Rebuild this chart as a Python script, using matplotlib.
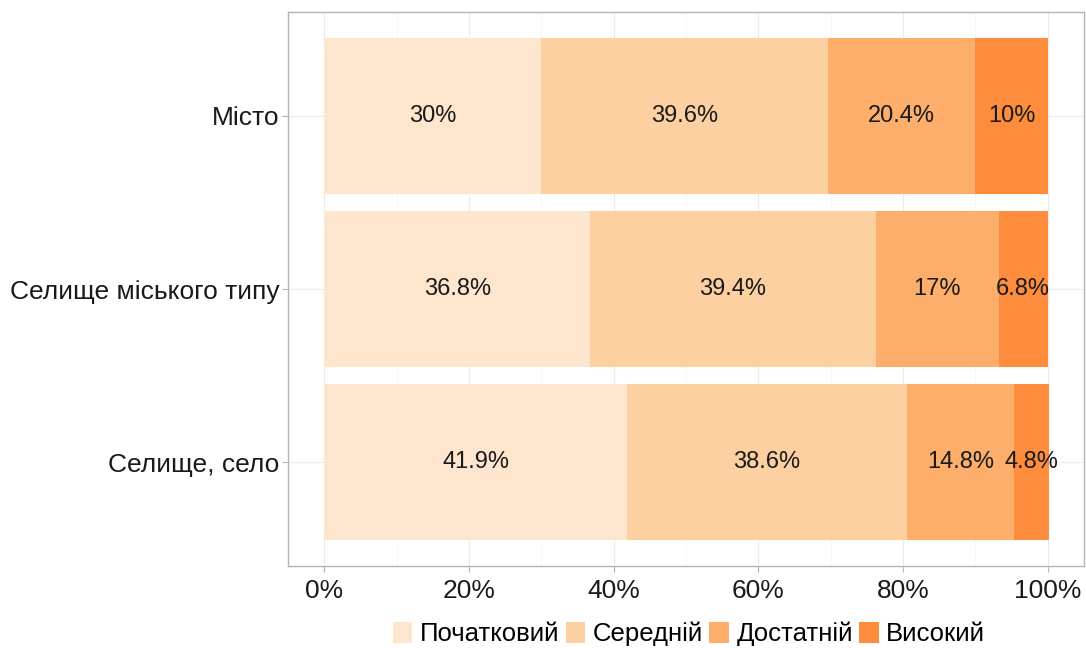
"""Stacked horizontal bars: share of levels by settlement type."""
import matplotlib.pyplot as plt
import numpy as np
from matplotlib.patches import Patch
from matplotlib.ticker import MultipleLocator, PercentFormatter

plt.rcParams["font.family"] = ["Liberation Sans", "DejaVu Sans"]

categories = ["Селище, село", "Селище міського типу", "Місто"]
levels = ["Початковий", "Середній", "Достатній", "Високий"]
values = {
    "Початковий": [41.9, 36.8, 30.0],
    "Середній": [38.6, 39.4, 39.6],
    "Достатній": [14.8, 17.0, 20.4],
    "Високий": [4.8, 6.8, 10.0],
}
labels = {
    "Початковий": ["41.9%", "36.8%", "30%"],
    "Середній": ["38.6%", "39.4%", "39.6%"],
    "Достатній": ["14.8%", "17%", "20.4%"],
    "Високий": ["4.8%", "6.8%", "10%"],
}
colors = ["#FEE6CE", "#FDD0A2", "#FDAE6B", "#FD8D3C"]

fig = plt.figure(figsize=(10.86, 6.48), dpi=100)
ax = fig.add_axes([288 / 1086, 1 - 566 / 648, 796 / 1086, 554 / 648])

y = np.arange(1, len(categories) + 1)
left = np.zeros(len(categories))
for lvl, col in zip(levels, colors):
    frac = np.array(values[lvl]) / 100.0
    ax.barh(y, frac, left=left, height=0.9, color=col, edgecolor="none", zorder=2)
    for yi, l, w, txt in zip(y, left, frac, labels[lvl]):
        ax.text(l + w / 2, yi, txt, ha="center", va="center", fontsize=17,
                color="#1a1a1a", zorder=3)
    left += frac

ax.set_xlim(-0.05, 1.05)
ax.set_ylim(0.4, 3.6)
ax.set_yticks(y)
ax.set_yticklabels(categories, fontsize=19, color="#1a1a1a")
ax.xaxis.set_major_locator(MultipleLocator(0.2))
ax.xaxis.set_minor_locator(MultipleLocator(0.1))
ax.xaxis.set_major_formatter(PercentFormatter(1.0, decimals=0))
ax.tick_params(axis="x", labelsize=19, colors="#b3b3b3", labelcolor="#1a1a1a",
               length=4, width=0.8, pad=5)
ax.tick_params(axis="x", which="minor", length=0)
ax.tick_params(axis="y", colors="#b3b3b3", labelcolor="#1a1a1a", length=4, width=0.8,
               pad=2)
ax.grid(True, axis="x", which="major", color="#ebebeb", linewidth=0.8, zorder=0)
ax.grid(True, axis="x", which="minor", color="#f4f4f4", linewidth=0.5, zorder=0)
ax.grid(True, axis="y", which="major", color="#ebebeb", linewidth=0.8, zorder=0)
for s in ax.spines.values():
    s.set_color("#b3b3b3")
    s.set_linewidth(1.0)

handles = [Patch(facecolor=c, edgecolor="none", label=l) for l, c in zip(levels, colors)]
fig.legend(handles=handles, loc="center", bbox_to_anchor=(689 / 1086, 1 - 634 / 648),
           ncol=4, frameon=False, fontsize=18.5, handlelength=0.75, handleheight=0.9,
           handletextpad=0.3, columnspacing=0.25, borderaxespad=0)

fig.savefig("out.png", dpi=100)
plt.close(fig)
